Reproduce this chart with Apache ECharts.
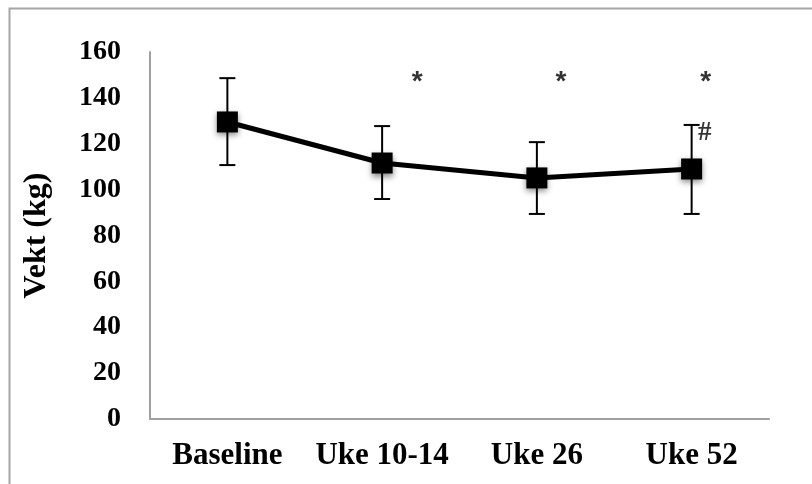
<!DOCTYPE html>
<html>
<head>
<meta charset="utf-8">
<script src="https://cdn.jsdelivr.net/npm/echarts@6/dist/echarts.min.js"></script>
<style>
html,body{margin:0;padding:0;background:#fff;}
#chart{width:812px;height:484px;}
</style>
</head>
<body>
<div id="chart"></div>
<script>
// ---- data ----
var categories = ['Baseline', 'Uke 10-14', 'Uke 26', 'Uke 52'];
var meanValues = [129.5, 111.6, 105.1, 109.0];
var errUpper = [148.6, 127.7, 120.7, 128.2];
var errLower = [110.7, 95.9, 89.4, 89.4];
var starLevels = [null, 147.8, 147.8, 147.8];
var hashLevels = [null, null, null, 124.7];
var yTicks = [0, 20, 40, 60, 80, 100, 120, 140, 160];

// ---- styles ----
var serif = '"Liberation Serif", "Times New Roman", serif';
var sans = '"Liberation Sans", Arial, sans-serif';
var starOffsets = [0, 35, 24, 14];

var chart = echarts.init(document.getElementById('chart'), null, {renderer: 'canvas'});

var errData = categories.map(function (c, i) { return [i, errLower[i], errUpper[i]]; });
var starData = [];
starLevels.forEach(function (v, i) {
  if (v != null) starData.push({value: [i, v], label: {offset: [starOffsets[i], 2]}});
});
var hashData = [];
hashLevels.forEach(function (v, i) { if (v != null) hashData.push([i, v]); });

var option = {
  backgroundColor: '#ffffff',
  animation: false,
  graphic: [{
    type: 'rect', left: 7, top: 6, z: -1,
    shape: {width: 900, height: 600},
    style: {fill: 'none', stroke: '#a6a6a6', lineWidth: 2}
  }],
  grid: {left: 150, right: 43, top: 52, bottom: 65, containLabel: false},
  xAxis: {
    type: 'category',
    data: categories,
    boundaryGap: true,
    axisLine: {lineStyle: {color: '#a0a0a0', width: 2}},
    axisTick: {show: false},
    axisLabel: {interval: 0, fontFamily: serif, fontWeight: 'bold', fontSize: 31, color: '#000', margin: 21}
  },
  yAxis: {
    type: 'value',
    min: yTicks[0],
    max: yTicks[yTicks.length - 1],
    interval: yTicks[1] - yTicks[0],
    name: 'Vekt (kg)',
    nameLocation: 'middle',
    nameGap: 97,
    nameRotate: 90,
    nameTextStyle: {fontFamily: serif, fontWeight: 'bold', fontSize: 32, color: '#000'},
    axisLine: {show: true, lineStyle: {color: '#a0a0a0', width: 2}},
    axisTick: {show: false},
    splitLine: {show: false},
    axisLabel: {fontFamily: serif, fontWeight: 'bold', fontSize: 28, color: '#000', margin: 29}
  },
  series: [
    {
      type: 'custom',
      name: 'err',
      data: errData,
      z: 3,
      renderItem: function (params, api) {
        var x = api.value(0);
        var lo = api.coord([x, api.value(1)]);
        var hi = api.coord([x, api.value(2)]);
        var hw = 8;
        var st = {stroke: '#000', lineWidth: 2};
        return {
          type: 'group',
          children: [
            {type: 'line', shape: {x1: lo[0], y1: lo[1], x2: hi[0], y2: hi[1]}, style: st},
            {type: 'line', shape: {x1: hi[0] - hw, y1: hi[1], x2: hi[0] + hw, y2: hi[1]}, style: st},
            {type: 'line', shape: {x1: lo[0] - hw, y1: lo[1], x2: lo[0] + hw, y2: lo[1]}, style: st}
          ]
        };
      }
    },
    {
      type: 'line',
      data: meanValues,
      z: 5,
      symbol: 'rect',
      symbolSize: 21,
      lineStyle: {color: '#000', width: 5},
      itemStyle: {color: '#000', borderWidth: 0, shadowBlur: 6, shadowColor: 'rgba(0,0,0,0.45)', shadowOffsetY: 3},
      emphasis: {disabled: true}
    },
    {
      type: 'scatter',
      data: starData,
      symbolSize: 0,
      silent: true,
      label: {show: true, position: 'inside', formatter: '*', fontFamily: sans, fontWeight: 'bold', fontSize: 28, color: '#000'}
    },
    {
      type: 'scatter',
      data: hashData,
      symbolSize: 0,
      silent: true,
      label: {show: true, position: 'inside', formatter: '#', offset: [13, 0], fontFamily: serif, fontWeight: 'bold', fontSize: 27, color: '#000'}
    }
  ]
};
chart.setOption(option);
</script>
</body>
</html>
